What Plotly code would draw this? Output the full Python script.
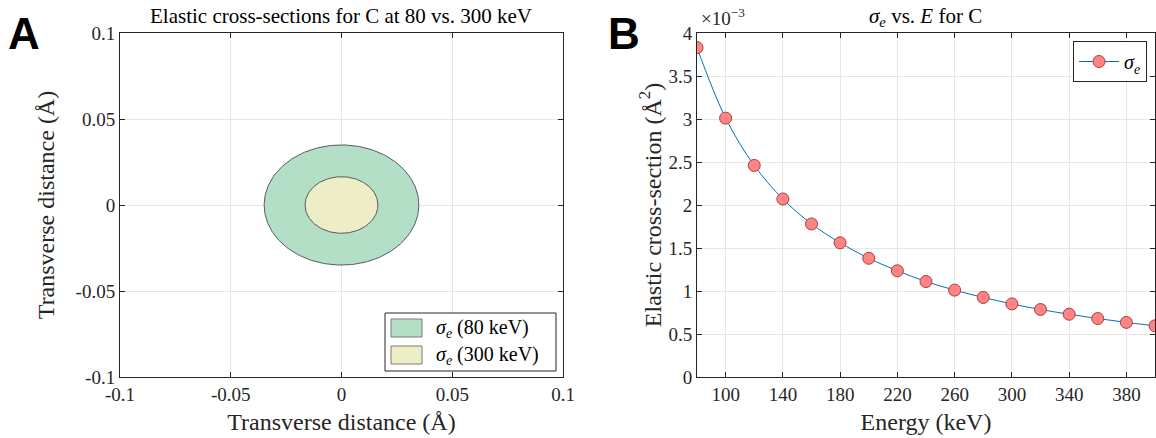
import numpy as np
import plotly.graph_objects as go

# ---- data ----
energies = [80, 100, 120, 140, 160, 180, 200, 220, 240, 260, 280, 300, 320, 340, 360, 380, 400]
sigma_e = [3.83, 3.01, 2.46, 2.07, 1.78, 1.56, 1.38, 1.235, 1.11, 1.01, 0.925, 0.85,
           0.785, 0.73, 0.68, 0.635, 0.595]  # x 1e-3 Å^2
compare_energies = [80, 300]
compare_labels = ["<i>σ</i><sub><i>e</i></sub> (80 keV)", "<i>σ</i><sub><i>e</i></sub> (300 keV)"]
compare_fills = ["#b3dfc7", "#eeeec6"]

left_ticks = [-0.1, -0.05, 0, 0.05, 0.1]
left_ticktext = ["-0.1", "-0.05", "0", "0.05", "0.1"]
right_xticks = [100, 140, 180, 220, 260, 300, 340, 380]
right_yticks = [0, 0.5, 1, 1.5, 2, 2.5, 3, 3.5, 4]

W, H = 1156, 438
def px(x): return x / W
def py(y): return 1 - y / H

FONT = "Liberation Serif"
AX = "#262626"
TICK_SIZE = 19
TITLE_SIZE = 24

fig = go.Figure()

# ---- Panel A: circles with area = sigma ----
theta = np.linspace(0, 2 * np.pi, 241)
for E, lab, col in zip(compare_energies, compare_labels, compare_fills):
    s = sigma_e[energies.index(E)] * 1e-3
    r = np.sqrt(s / np.pi)
    fig.add_trace(go.Scatter(
        x=r * np.cos(theta), y=r * np.sin(theta), mode="lines", fill="toself",
        fillcolor=col, line=dict(color="#5a5a5a", width=1), name=lab,
        xaxis="x", yaxis="y", showlegend=False, hoverinfo="skip"))

# ---- Panel B ----
fig.add_trace(go.Scatter(
    x=energies, y=[v * 1e-3 for v in sigma_e], mode="lines+markers",
    line=dict(color="#0072bd", width=1, shape="spline"),
    marker=dict(size=12, color="#ff8484", line=dict(color="#b23a3a", width=1)),
    name="<i>σ</i><sub><i>e</i></sub>", xaxis="x2", yaxis="y2", legend="legend2"))

common = dict(showline=True, linecolor=AX, linewidth=1, mirror="ticks", ticks="inside",
              ticklen=5, tickcolor=AX, showgrid=True, gridcolor="#e6e6e6", gridwidth=1,
              zeroline=False, automargin=False,
              tickfont=dict(family=FONT, size=TICK_SIZE, color=AX),
              title_font=dict(family=FONT, size=TITLE_SIZE, color=AX))

fig.update_layout(
    width=W, height=H, margin=dict(l=0, r=0, t=0, b=0),
    paper_bgcolor="white", plot_bgcolor="white",
    xaxis=dict(domain=[px(120), px(563)], range=[-0.1, 0.1], tickvals=left_ticks,
               ticktext=left_ticktext, anchor="y",
               title=dict(text="Transverse distance (Å)", standoff=9), **common),
    yaxis=dict(domain=[py(377), py(33)], range=[-0.1, 0.1], tickvals=left_ticks,
               ticktext=left_ticktext, anchor="x",
               title=dict(text="Transverse distance (Å)", standoff=14), **common),
    xaxis2=dict(domain=[px(697), px(1155)], range=[80, 400], tickvals=right_xticks,
                anchor="y2", title=dict(text="Energy (keV)", standoff=9), **common),
    yaxis2=dict(domain=[py(377), py(33)], range=[0, 4e-3],
                tickvals=[v * 1e-3 for v in right_yticks],
                ticktext=[f"{v:g}" for v in right_yticks], anchor="x2",
                title=dict(text="Elastic cross-section (Å<sup>2</sup>)", standoff=0), **common),
    legend2=dict(x=px(1147), y=py(41), xanchor="right", yanchor="top",
                 bgcolor="white", bordercolor=AX, borderwidth=1,
                 font=dict(family=FONT, size=20, color="black"), itemwidth=40),
    showlegend=True,
)

# ---- manual legend for panel A ----
LX0, LX1, LY0, LY1 = 385, 556, 313, 371
fig.add_shape(type="rect", xref="paper", yref="paper", x0=px(LX0), x1=px(LX1),
              y0=py(LY1), y1=py(LY0), fillcolor="white", line=dict(color=AX, width=1))
for i, (lab, col) in enumerate(zip(compare_labels, compare_fills)):
    yc = 328 + i * 27
    fig.add_shape(type="rect", xref="paper", yref="paper", x0=px(391), x1=px(422),
                  y0=py(yc + 9), y1=py(yc - 9), fillcolor=col,
                  line=dict(color="#7a7a7a", width=1))
    fig.add_annotation(text=lab, x=px(434), y=py(yc), xanchor="left", yanchor="middle",
                       xref="paper", yref="paper", showarrow=False,
                       font=dict(family=FONT, size=20, color="black"))

fig.add_annotation(text="Elastic cross-sections for C at 80 vs. 300 keV", x=px(341), y=py(16),
                   xref="paper", yref="paper", showarrow=False, xanchor="center", yanchor="middle",
                   font=dict(family=FONT, size=21, color="black"))
fig.add_annotation(text="<i>σ</i><sub><i>e</i></sub> vs. <i>E</i> for C", x=px(926), y=py(17),
                   xref="paper", yref="paper", showarrow=False, xanchor="center", yanchor="middle",
                   font=dict(family=FONT, size=21, color="black"))
fig.add_annotation(text="×10<sup>−3</sup>", x=px(699), y=py(17), xanchor="left", yanchor="middle",
                   xref="paper", yref="paper", showarrow=False,
                   font=dict(family=FONT, size=19, color=AX))
fig.add_annotation(text="<b>A</b>", x=px(6), y=py(34), xanchor="left", yanchor="middle",
                   xref="paper", yref="paper", showarrow=False,
                   font=dict(family="Liberation Sans", size=44, color="black"))
fig.add_annotation(text="<b>B</b>", x=px(606), y=py(34), xanchor="left", yanchor="middle",
                   xref="paper", yref="paper", showarrow=False,
                   font=dict(family="Liberation Sans", size=44, color="black"))

fig.write_html("out.html")
